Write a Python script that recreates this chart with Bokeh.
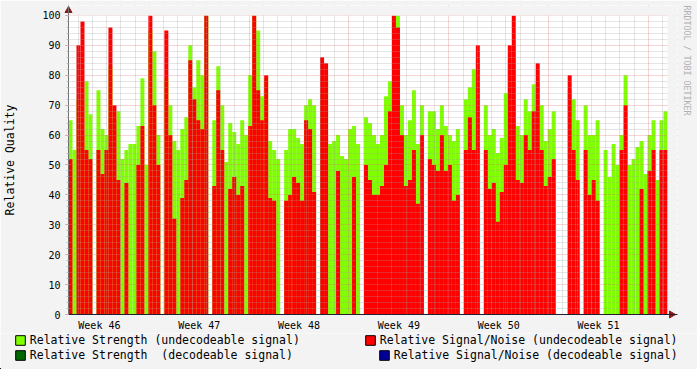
import math
from bokeh.plotting import figure
from bokeh.layouts import column
from bokeh.models import (FixedTicker, Grid, Legend, LegendItem, Title,
                          BoxAnnotation, Range1d)
from bokeh.embed import file_html
from bokeh.resources import INLINE

# ---- data ----
week_labels = ["Week 46", "Week 47", "Week 48", "Week 49", "Week 50", "Week 51"]
label_hours = [84, 252, 420, 588, 756, 924]       # middle of each week (hours)
start_hour = 32                                   # left edge of the time window
step_hours = 6.72                                 # one sample

strength = [65, 55, 72, 60, 78, 67, 0, 75, 62, 60,
            83, 65, 68, 52, 55, 57, 57, 63, 79, 50,
            95, 88, 60, 0, 79, 70, 58, 55, 62, 66,
            90, 76, 85, 80, 100, 0, 65, 83, 70, 51,
            64, 61, 57, 65, 60, 80, 100, 95, 73, 79,
            58, 55, 52, 0, 55, 62, 62, 59, 57, 70,
            72, 70, 0, 74, 79, 57, 58, 60, 53, 52,
            62, 63, 57, 0, 66, 64, 60, 57, 60, 73,
            78, 95, 100, 70, 60, 65, 75, 57, 70, 0,
            68, 68, 62, 70, 63, 60, 58, 62, 0, 72,
            76, 82, 85, 0, 70, 60, 62, 54, 59, 74,
            85, 90, 63, 60, 72, 68, 77, 78, 70, 58,
            62, 68, 0, 0, 0, 75, 72, 65, 0, 70,
            60, 60, 65, 0, 55, 46, 57, 50, 60, 80,
            50, 52, 56, 58, 47, 60, 65, 45, 65, 68]

snr = [52, 0, 90, 98, 55, 52, 0, 55, 47, 55,
       96, 70, 45, 0, 44, 0, 0, 50, 63, 0,
       100, 70, 50, 0, 95, 60, 32, 0, 39, 45,
       85, 72, 65, 62, 100, 0, 43, 75, 55, 0,
       42, 46, 40, 43, 0, 63, 100, 75, 65, 80,
       39, 38, 0, 0, 38, 40, 46, 44, 38, 65,
       62, 41, 0, 86, 84, 0, 0, 48, 0, 0,
       0, 46, 0, 0, 50, 45, 40, 40, 43, 50,
       68, 100, 96, 60, 43, 45, 55, 37, 60, 0,
       52, 50, 48, 60, 48, 50, 38, 40, 0, 55,
       66, 55, 90, 0, 55, 42, 44, 31, 41, 50,
       90, 100, 45, 44, 60, 55, 68, 84, 55, 43,
       46, 52, 0, 0, 0, 80, 55, 45, 0, 55,
       40, 45, 38, 0, 0, 0, 0, 0, 55, 70,
       0, 0, 0, 42, 0, 48, 55, 0, 55, 55]

strength_decodeable = []   # no samples in the picture
snr_decodeable = []

legend_labels = ["Relative Strength (undecodeable signal)",
                 "Relative Signal/Noise (undecodeable signal)",
                 "Relative Strength  (decodeable signal)",
                 "Relative Signal/Noise (decodeable signal)"]

x = [start_hour + step_hours * (i + 0.5) for i in range(len(strength))]
end_hour = start_hour + step_hours * len(strength)
y_top = 100.0

FONT = "DejaVu Sans Mono"
GREEN = "#80ff00"
RED = "#ff0000"
DGREEN = "#006600"
BLUE = "#000099"
BACK = "#f3f3f3"
ARROW = "#8b1a1a"

# frame is 610 x 310 px: 600 x 300 for the data plus room for the axis arrows
x_end = start_hour + (end_hour - start_hour) * 610 / 600.0
y_end = y_top * 310 / 300.0

p = figure(width=697, height=333,
           x_range=Range1d(start_hour, x_end), y_range=Range1d(0, y_end),
           output_backend="svg", toolbar_location=None,
           min_border_left=67, min_border_right=20,
           min_border_top=5, min_border_bottom=18,
           background_fill_color="white", border_fill_color=BACK,
           outline_line_color=None)
p.frame_align = False

# data
p.vbar(x=x, top=strength, width=step_hours, bottom=0,
       fill_color=GREEN, line_color=None)
p.vbar(x=x, top=snr, width=step_hours, bottom=0,
       fill_color=RED, line_color=None)
p.vbar(x=x[:len(strength_decodeable)], top=strength_decodeable, width=step_hours,
       fill_color=DGREEN, line_color=None)
p.vbar(x=x[:len(snr_decodeable)], top=snr_decodeable, width=step_hours,
       fill_color=BLUE, line_color=None)

# grids (drawn over the bars, like rrdtool)
p.xgrid.visible = False
p.ygrid.visible = False
week_bounds = [168 * k for k in range(1, 7)]
day_ticks = [24 * d for d in range(2, 44) if (24 * d) % 168 != 0]
grid_style = dict(grid_line_color="#e07070", grid_line_alpha=0.6, grid_line_dash="1 1",
                  minor_grid_line_color="#a0a0a0", minor_grid_line_alpha=0.55,
                  minor_grid_line_dash="1 1", level="guide")
p.add_layout(Grid(dimension=0, ticker=FixedTicker(ticks=week_bounds, minor_ticks=day_ticks),
                  **grid_style), "center")
p.add_layout(Grid(dimension=1,
                  ticker=FixedTicker(ticks=list(range(10, 101, 10)),
                                     minor_ticks=[v for v in range(2, 100, 2) if v % 10]),
                  **grid_style), "center")

# canvas colour outside the 600x300 data area (arrow room)
p.add_layout(BoxAnnotation(bottom=y_top, fill_color=BACK, fill_alpha=1,
                           line_color=None, level="annotation"))
p.add_layout(BoxAnnotation(left=end_hour, fill_color=BACK, fill_alpha=1,
                           line_color=None, level="annotation"))

# y axis
ya = p.yaxis[0]
ya.level = "overlay"
ya.ticker = FixedTicker(ticks=list(range(0, 101, 10)),
                        minor_ticks=list(range(0, 101, 2)))
ya.major_label_text_font = FONT
ya.major_label_text_font_size = "10px"
ya.major_label_text_color = "black"
ya.major_tick_out = 3
ya.major_tick_in = 0
ya.major_tick_line_color = "#e08080"
ya.minor_tick_out = 2
ya.minor_tick_in = 0
ya.minor_tick_line_color = "#c0c0c0"
ya.major_label_standoff = 5
ya.axis_line_color = "#707070"
ya.axis_label = "Relative Quality"
ya.axis_label_text_font = FONT
ya.axis_label_text_font_size = "11.5px"
ya.axis_label_text_font_style = "normal"
ya.axis_label_text_color = "black"
ya.axis_label_standoff = 22

# x axis
xa = p.xaxis[0]
xa.level = "overlay"
xa.ticker = FixedTicker(ticks=label_hours)
xa.major_label_overrides = {h: t for h, t in zip(label_hours, week_labels)}
xa.major_label_text_font = FONT
xa.major_label_text_font_size = "10px"
xa.major_label_text_color = "black"
xa.major_tick_line_color = None
xa.minor_tick_line_color = None
xa.major_tick_out = 0
xa.minor_tick_out = 0
xa.major_label_standoff = 5
xa.axis_line_color = "#202030"

# axis arrow heads
px_h = (end_hour - start_hour) / 600.0
p.scatter(x=[start_hour], y=[y_top + 5 / 3.0], marker="triangle", size=7,
          fill_color=ARROW, line_color=ARROW, level="overlay")
p.scatter(x=[end_hour + 4 * px_h], y=[0], marker="triangle", size=7, angle=-math.pi / 2,
          fill_color=ARROW, line_color=ARROW, level="overlay")

# watermark on the right
p.add_layout(Title(text="RRDTOOL / TOBI OETIKER", align="left", standoff=8,
                   text_font=FONT, text_font_size="8.3px", text_font_style="normal",
                   text_color="#b0b0b0"), "right")

# ---- legend strip below the chart ----
STRIP_H = 36
lf = figure(width=697, height=STRIP_H, x_range=Range1d(0, 697), y_range=Range1d(0, STRIP_H),
            output_backend="svg", toolbar_location=None,
            x_axis_location=None, y_axis_location=None,
            min_border=0, min_border_left=0, min_border_right=0,
            min_border_top=0, min_border_bottom=0,
            background_fill_color=BACK, border_fill_color=BACK,
            outline_line_color=None)
lf.frame_align = False
lf.xgrid.visible = False
lf.ygrid.visible = False
# swatch renderers: one point each, placed outside the strip's visible range
sw = [lf.vbar(x=[-50], top=[1], width=1, fill_color=c, line_color="black")
      for c in (GREEN, RED, DGREEN, BLUE)]

# swatch box left edge (px) and row centre (px from strip top)
slots = [(13.8, 8), (363.8, 8), (13.8, 22.5), (377.8, 22.5)]
for r, lab, (sx, cy) in zip(sw, legend_labels, slots):
    lg = Legend(items=[LegendItem(label=lab, renderers=[r])],
                location=(sx, STRIP_H - cy - 6), orientation="vertical",
                padding=0, margin=0, spacing=0,
                glyph_width=12, glyph_height=12, label_height=12,
                label_standoff=4, label_text_font=FONT,
                label_text_font_size="11.5px", label_text_color="black",
                background_fill_alpha=0, border_line_color=None)
    lf.add_layout(lg, "center")

open("out.html", "w").write(file_html(column(p, lf, spacing=0), INLINE))
